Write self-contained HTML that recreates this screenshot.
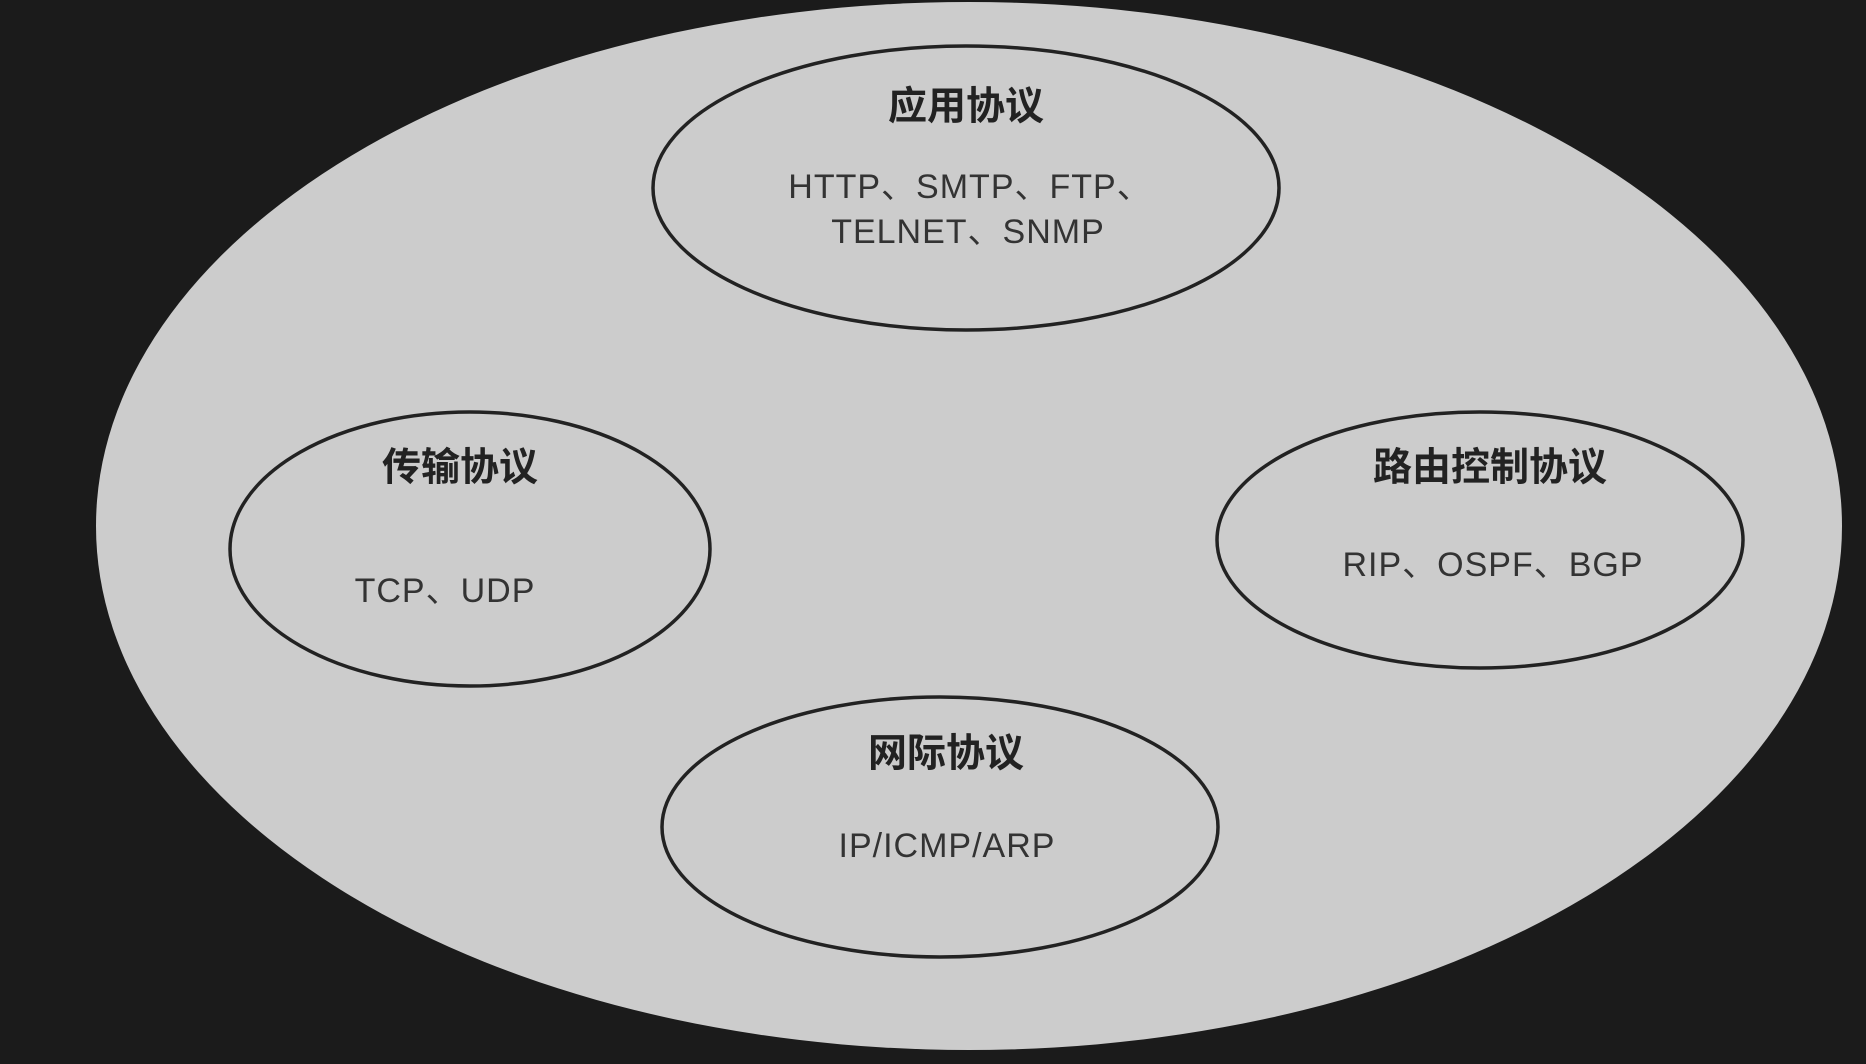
<!DOCTYPE html>
<html><head><meta charset="utf-8"><style>
html,body{margin:0;padding:0;background:#1b1b1b;}
svg{display:block;}
text{font-family:"Liberation Sans","Noto Sans CJK SC",sans-serif;fill:#333;}
.t{font-weight:bold;font-size:39px;fill:#222;}
.b{font-size:34px;letter-spacing:1px;}
</style></head><body>
<svg width="1866" height="1064" viewBox="0 0 1866 1064">
<rect width="1866" height="1064" fill="#1b1b1b"/>
<ellipse cx="969" cy="526" rx="873" ry="524" fill="#cccccc"/>
<g fill="none" stroke="#222" stroke-width="3.5">
<ellipse cx="966" cy="188" rx="313" ry="142"/>
<ellipse cx="470" cy="549" rx="240" ry="137"/>
<ellipse cx="1480" cy="540" rx="263" ry="128"/>
<ellipse cx="940" cy="827" rx="278" ry="130"/>
</g>
<g text-anchor="middle" dominant-baseline="central">
<text class="t" x="966" y="107">应用协议</text>
<text class="b" x="970" y="187">HTTP、SMTP、FTP、</text>
<text class="b" x="968" y="232">TELNET、SNMP</text>
<text class="t" x="460" y="468">传输协议</text>
<text class="b" x="445" y="591">TCP、UDP</text>
<text class="t" x="1490" y="468">路由控制协议</text>
<text class="b" x="1493" y="565">RIP、OSPF、BGP</text>
<text class="t" x="946" y="754">网际协议</text>
<text class="b" x="947" y="846">IP/ICMP/ARP</text>
</g>
</svg>
</body></html>
